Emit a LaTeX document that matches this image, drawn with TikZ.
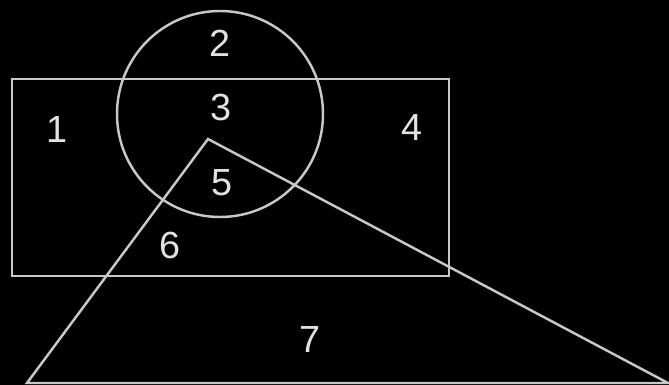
\documentclass[tikz,border=0pt]{standalone}
\usepackage{fontspec}
\setmainfont{Liberation Sans}
\definecolor{inkgray}{HTML}{C8C8C8}
\definecolor{labelwhite}{HTML}{E2E2E2}
\usepackage{tikz}

\begin{document}
\begin{tikzpicture}[
  x=0.02cm, y=-0.02cm,
  outline/.style={draw=inkgray, line width=1.4pt, line join=miter},
  region/.style={text=labelwhite, font=\fontsize{21.5}{25}\selectfont, inner sep=0pt},
]
  \fill[black] (0,0) rectangle (669,385);
  \useasboundingbox (0,0) rectangle (669,385);

  \draw[outline] (12,79) rectangle (449,276);
  \draw[outline] (220,114) circle[radius=103];
  \draw[outline] (208,139) -- (27,383) -- (668,383) -- cycle;

  \node[region] (r1) at (57,130) {1};
  \node[region] (r2) at (220,43) {2};
  \node[region] (r3) at (221,107) {3};
  \node[region] (r4) at (412,128) {4};
  \node[region] (r5) at (222,183) {5};
  \node[region] (r6) at (170,245) {6};
  \node[region] (r7) at (310,340) {7};
\end{tikzpicture}
\end{document}
